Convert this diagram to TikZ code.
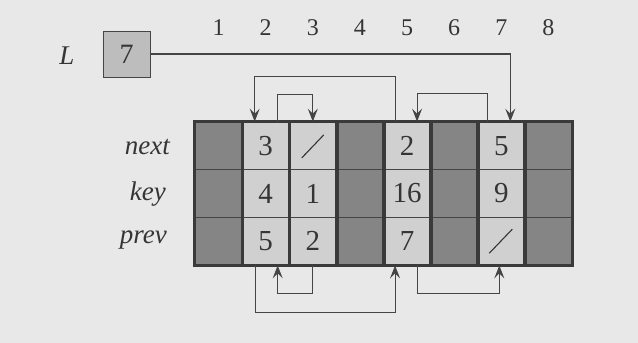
\documentclass[tikz,border=0pt]{standalone}
\usepackage{fontspec}
\setmainfont{Liberation Serif}
\usetikzlibrary{arrows.meta}
\definecolor{bgc}{HTML}{E8E8E8}
\definecolor{lightcell}{HTML}{D0D0D0}
\definecolor{darkcell}{HTML}{858585}
\definecolor{boxc}{HTML}{BDBDBD}
\definecolor{inkc}{HTML}{353535}
\definecolor{linec}{HTML}{454545}
\definecolor{bordc}{HTML}{3A3A3A}
\begin{document}
\begin{tikzpicture}[x=1pt,y=-1pt,
  cell/.style={minimum width=47.125pt,minimum height=47.67pt,inner sep=0pt,draw=linec,line width=0.8pt,
    text=inkc,font=\fontsize{29}{31}\selectfont},
  lcell/.style={cell,fill=lightcell},
  dcell/.style={cell,fill=darkcell},
  idx/.style={text=inkc,font=\fontsize{24}{26}\selectfont,inner sep=0pt},
  rowlab/.style={text=inkc,font=\fontsize{27}{29}\selectfont\itshape,inner sep=0pt,anchor=east},
  thickline/.style={draw=bordc,line width=3.6pt},
  ptr/.style={draw=linec,line width=1.1pt,-{Stealth[length=13pt,width=10pt,inset=5pt]}},
  slashline/.style={draw=inkc,line width=1.1pt}]
\fill[bgc] (0,0) rectangle (638,343);
\useasboundingbox (0,0) rectangle (638,343);
% list head
\node[text=inkc,font=\fontsize{27}{29}\selectfont\itshape,inner sep=0pt] (Llab) at (67,56) {L};
\node[minimum width=47pt,minimum height=46pt,inner sep=0pt,fill=boxc,draw=linec,line width=1pt,
  text=inkc,font=\fontsize{28}{30}\selectfont] (Lbox) at (126.5,54) {7};
% array cells
\foreach \c/\a/\b/\d/\sty in {1/{}/{}/{}/dcell,2/3/4/5/lcell,3/{}/1/2/lcell,4/{}/{}/{}/dcell,
                             5/2/16/7/lcell,6/{}/{}/{}/dcell,7/5/9/{}/lcell,8/{}/{}/{}/dcell}{
  \node[\sty] (c\c r1) at ({195+47.125*(\c-0.5)},{122+47.67*0.5}) {\a};
  \node[\sty] (c\c r2) at ({195+47.125*(\c-0.5)},{122+47.67*1.5}) {\b};
  \node[\sty] (c\c r3) at ({195+47.125*(\c-0.5)},{122+47.67*2.5}) {\d};
  \node[idx] (h\c) at ({195+47.125*(\c-0.5)},28) {\c};
}
% thick borders
\draw[thickline] (c1r1.north west) rectangle (c8r3.south east);
\foreach \c in {1,...,7}{
  \draw[thickline] (c\c r1.north east) -- (c\c r3.south east);
}
% nil slashes
\draw[slashline] ([shift={(-11,12)}]c3r1.center) -- ([shift={(11,-11)}]c3r1.center);
\draw[slashline] ([shift={(-12,12)}]c7r3.center) -- ([shift={(11,-12)}]c7r3.center);
% row labels
\node[rowlab] (lnext) at (170,147) {next};
\node[rowlab] (lkey) at (166,194) {key};
\node[rowlab] (lprev) at (167,240) {prev};
% next pointers
\draw[ptr] (Lbox.east) -| ([xshift=9]c7r1.north);
\draw[ptr] ([xshift=-14]c7r1.north) -- ++(0,-28) -| ([xshift=10]c5r1.north);
\draw[ptr] ([xshift=-12]c5r1.north) -- ++(0,-45) -| ([xshift=-11]c2r1.north);
\draw[ptr] ([xshift=12]c2r1.north) -- ++(0,-27) -| (c3r1.north);
% prev pointers
\draw[ptr] (c3r3.south) -- ++(0,28) -| ([xshift=12]c2r3.south);
\draw[ptr] ([xshift=-10]c2r3.south) -- ++(0,47) -| ([xshift=-12]c5r3.south);
\draw[ptr] ([xshift=10]c5r3.south) -- ++(0,28) -| ([xshift=-2]c7r3.south);
\end{tikzpicture}
\end{document}
